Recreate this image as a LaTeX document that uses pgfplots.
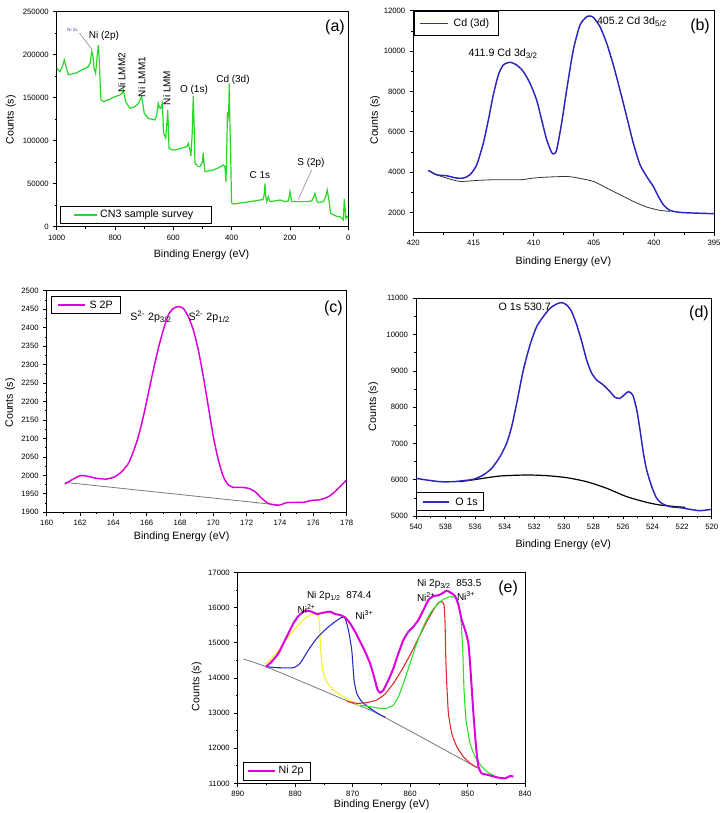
\documentclass[border=0pt]{standalone}
\usepackage{pgfplots}
\pgfplotsset{compat=1.18}
\usepackage{fontspec}
\setmainfont{Liberation Sans}
\definecolor{cgreen}{RGB}{40,215,40}
\definecolor{cblue}{RGB}{45,35,190}
\definecolor{dblue}{RGB}{50,40,200}
\definecolor{cmag}{RGB}{220,0,220}
\definecolor{eyellow}{RGB}{245,240,40}
\definecolor{ered}{RGB}{225,40,40}
\definecolor{egreen}{RGB}{40,225,40}
\definecolor{eblue}{RGB}{40,40,200}
\definecolor{cgray}{RGB}{120,120,120}
\tikzset{
  annot/.style={font=\fontsize{7.5}{8}\selectfont, inner sep=0pt},
  plab/.style={font=\fontsize{12}{13}\selectfont, inner sep=0pt},
  legtxt/.style={font=\fontsize{8}{9}\selectfont, inner sep=0pt, anchor=west},
}
% manual legend frame and sample line
\newcommand{\mylegend}[9]{%
  \draw[black, line width=0.5pt, fill=white] (axis description cs:#1,#2) rectangle (axis description cs:#3,#4);
  \draw[draw=#9, line width=1.3pt] (axis description cs:#5,#7) -- (axis description cs:#6,#7);
  \node[legtxt] at (axis description cs:#8,#7) }
\pgfplotsset{
  xps/.style={
    scale only axis,
    axis line style={line width=0.6pt},
    tick align=outside,
    tick pos=left,
    minor tick num=1,
    major tick length=2.5pt, minor tick length=1.5pt,
    tick style={line width=0.5pt, black},
    ticklabel style={font=\fontsize{5.8}{7}\selectfont},
    /pgf/number format/assume math mode=true,
    /pgf/number format/fixed,
    /pgf/number format/precision=0,
    /pgf/number format/1000 sep={},
    scaled ticks=false,
    xlabel={Binding Energy (eV)},
    ylabel={Counts (s)},
    xlabel style={anchor=center, font=\fontsize{8}{9}\selectfont},
    ylabel style={anchor=center, font=\fontsize{8}{9}\selectfont},
  }
}
\begin{document}
\begin{tikzpicture}
% ---------------- (a) ----------------
\begin{axis}[xps,
  at={(42.5pt,-170pt)}, anchor=south west,
  width=218.7pt, height=161.25pt,
  x dir=reverse, xmin=0, xmax=1000, ymin=0, ymax=250000,
  xtick={0,200,...,1000}, ytick={0,50000,...,250000},
  xlabel style={at={(axis description cs:0.497,-0.132)}},
  ylabel style={at={(axis description cs:-0.157,0.496)}},
]
\addplot[cgreen, line width=0.9pt] coordinates {
(1000,184200) (993,182000) (988.7,180200) (981,186000) (973.9,193800) (968,186000)
(962.4,180200) (960,176400) (950,177500) (937,178300) (920,181000) (905,183500)
(891.6,186000) (885,190000) (880,203500) (876,200000) (872,185000) (866.4,178300)
(862,195000) (857.3,211300) (854,195000) (850,160000) (848,147300) (840,145300)
(820,148000) (800,151200) (783,153100) (776,155000) (771.6,159000) (767,152000)
(763.5,145300) (755,141000) (748.7,137700) (740,138500) (731.6,139500) (720,143000)
(714,147300) (708.5,151200) (704,142000) (699.6,131800) (685.9,126000) (675,125000)
(663,124100) (657,129900) (651.6,143500) (647,138000) (643.3,137700) (637.8,143500)
(633,108600) (626,102800) (621,125000) (619.3,135700) (616,110000) (614.9,91200)
(605,89500) (594.3,89200) (575,91000) (554.3,93000) (548.6,97000) (542,88000)
(539.5,82200) (535,110000) (531.5,152000) (528,110000) (525.7,73700) (514.4,69800)
(508.6,69800) (500,75000) (497.3,86000) (494,72000) (491.4,64000) (475,65000)
(463,65900) (445,68500) (428.8,71700) (423,69800) (419.4,52000) (416,100000)
(414.5,133000) (412,128000) (410,135000) (408,166700) (406,120000) (403.3,85300)
(401,40000) (400,27900) (394.4,26400) (370,27500) (337,29100) (302.8,31000)
(292,31500) (288,38000) (285.7,50000) (283,35000) (279.8,29100) (274.3,34900)
(268.5,29100) (250,30000) (234.2,31000) (217,29100) (205,30000) (200,40700)
(194,29100) (171.5,29100) (142.7,29100) (125.5,30000) (118,35000) (114.2,38800)
(108,30000) (102.9,27900) (85.7,29100) (77,35000) (72,42700) (66,30000)
(60.4,15600) (40,12000) (28.5,11600) (22.6,9800) (17,7800) (13.7,32000)
(10.5,20000) (8.9,9800) (4,12000) (0,10000)
};
\mylegend{0.0113}{0.0158}{0.5315}{0.093}{0.0593}{0.137}{0.0544}{0.1485}{cgreen}{CN3 sample survey};
\node[annot, font=\fontsize{3.5}{4}\selectfont, text=cblue!60!gray] at (axis cs:945.8,228700) {Ni 2s};
\draw[gray, line width=0.4pt] (axis cs:922,225200) -- (axis cs:877.5,205500);
\node[annot] at (axis cs:837.8,221700) {Ni (2p)};
\node[annot, rotate=90] at (axis cs:777,178700) {Ni LMM2};
\node[annot, rotate=90] at (axis cs:708.5,174000) {Ni LMM1};
\node[annot, rotate=90] at (axis cs:622.8,161300) {Ni LMM};
\node[annot] at (axis cs:529.2,159000) {O (1s)};
\node[annot] at (axis cs:395.4,170600) {Cd (3d)};
\node[annot] at (axis cs:302.8,60100) {C 1s};
\node[annot] at (axis cs:127.9,74100) {S (2p)};
\draw[gray, line width=0.4pt] (axis cs:125.5,65900) -- (axis cs:171.5,31900);
\node[plab] at (axis cs:45.6,232200) {(a)};
\end{axis}
% ---------------- (b) ----------------
\begin{axis}[xps,
  at={(310pt,-174.4pt)}, anchor=south west,
  width=225.5pt, height=166.35pt,
  x dir=reverse, xmin=395, xmax=420, ymin=1000, ymax=12000,
  xtick={395,400,...,420}, ytick={2000,4000,...,12000},
  xlabel style={at={(axis description cs:0.499,-0.132)}},
  ylabel style={at={(axis description cs:-0.127,0.507)}},
]
\addplot[black!80, line width=0.6pt, smooth, tension=0.4] coordinates {
(418.75,4079) (418.06,3864) (417.23,3700) (416.12,3535) (414.73,3584) (413.35,3617)
(411.13,3617) (410.02,3700) (408.91,3749) (407.25,3782) (406.7,3749) (405.03,3535)
(403.92,3205) (402.82,2875) (401.71,2544) (400.6,2264) (399.49,2099) (398.66,2049)
};
\addplot[cblue, line width=1.1pt, smooth, tension=0.4] coordinates {
(418.75,4079) (418.06,3864) (417.23,3815) (416.4,3700) (415.84,3700) (415.29,3864)
(414.73,4360) (414.18,5432) (413.76,6587) (413.35,7825) (412.93,8815) (412.52,9310)
(411.96,9442) (411.41,9310) (410.85,8980) (410.3,8403) (409.75,7577) (409.33,6587)
(408.91,5597) (408.5,4970) (408.3,4904) (408.08,5102) (407.67,6422) (407.25,8072)
(406.7,10053) (406.14,11290) (405.59,11703) (405.3,11736) (405.03,11670) (404.48,11208)
(403.92,10383) (403.37,9310) (402.82,8072) (402.26,6752) (401.71,5432) (401.15,4360)
(400.6,3782) (400.05,3287) (399.63,2792) (399.21,2379) (398.66,2099) (397.83,2000)
(396.72,1967) (395,1934)
};
\mylegend{0.002}{0.8905}{0.2827}{0.9955}{0.0223}{0.1164}{0.943}{0.133}{dblue}{Cd (3d)};
\fill[dblue] (axis description cs:0.0223,0.9391) rectangle (axis description cs:0.1164,0.9469);
\node[annot, font=\fontsize{8}{9}\selectfont, anchor=west] at (axis cs:415.43,9891) {411.9 Cd 3d\textsubscript{3/2}};
\node[annot, font=\fontsize{8}{9}\selectfont, anchor=west] at (axis cs:404.75,11456) {405.2 Cd 3d\textsubscript{5/2}};
\node[plab] at (axis cs:396.16,11208) {(b)};
\end{axis}
% ---------------- (c) ----------------
\begin{axis}[xps,
  at={(35pt,-384.2pt)}, anchor=south west,
  width=225pt, height=166.2pt,
  xmin=160, xmax=178, ymin=1900, ymax=2500,
  xtick={160,162,...,178}, ytick={1900,1950,...,2500},
  xlabel style={at={(axis description cs:0.45,-0.11)}},
  ylabel style={at={(axis description cs:-0.122,0.493)}},
]
\addplot[cgray, line width=0.6pt] coordinates {(161.1,1981) (173.9,1919.8)};
\addplot[cmag, line width=1.1pt, smooth, tension=0.4] coordinates {
(161.1,1976.7) (161.5,1987.5) (162.0,1999) (162.4,1998) (163.0,1992) (163.6,1990)
(164.1,1996.5) (164.5,2010) (164.9,2032) (165.2,2064) (165.5,2104.8) (165.8,2159)
(166.1,2222) (166.4,2285) (166.7,2344) (167.0,2393.5) (167.3,2434) (167.6,2452)
(167.9,2456.7) (168.2,2452) (168.5,2429.6) (168.8,2393.5) (169.1,2339) (169.4,2267)
(169.7,2186) (170.0,2104.8) (170.3,2041.6) (170.6,1996.5) (170.9,1974) (171.2,1967.7)
(171.6,1967.7) (172.1,1965) (172.5,1956) (172.9,1938) (173.3,1924) (173.7,1919.8)
(174.0,1919.8) (174.4,1926) (174.8,1927) (175.4,1927) (175.9,1932) (176.4,1934)
(176.9,1942) (177.3,1956) (177.7,1974) (178.0,1987.5)
};
\mylegend{0.0167}{0.898}{0.2443}{0.973}{0.0387}{0.1277}{0.9355}{0.142}{cmag}{S 2P};
\node[annot, font=\fontsize{8}{9}\selectfont, anchor=west] at (axis cs:165.0,2429.6) {S\textsuperscript{2-} 2p\textsubscript{3/2}};
\node[annot, font=\fontsize{8}{9}\selectfont, anchor=west] at (axis cs:168.5,2429.6) {S\textsuperscript{2-} 2p\textsubscript{1/2}};
\node[plab] at (axis cs:177.2,2453) {(c)};
\end{axis}
% ---------------- (d) ----------------
\begin{axis}[xps,
  at={(312pt,-387pt)}, anchor=south west,
  width=221.8pt, height=163.3pt,
  x dir=reverse, xmin=520, xmax=540, ymin=5000, ymax=11000,
  xtick={520,522,...,540}, ytick={5000,6000,...,11000},
  xlabel style={at={(axis description cs:0.498,-0.133)}},
  ylabel style={at={(axis description cs:-0.144,0.502)}},
]
\addplot[black, line width=0.9pt, smooth, tension=0.4] coordinates {
(537.02,5946) (535.9,6011) (534.32,6102) (532.52,6130) (531.16,6112) (529.81,6057)
(528.46,5946) (527.1,5763) (525.75,5533) (524.4,5377) (523.5,5303) (522.37,5257) (521.8,5239)
};
\addplot[cblue, line width=1.1pt, smooth, tension=0.4] coordinates {
(540,6038) (539.28,5992) (538.38,5946) (537.47,5946) (536.8,5974) (536.12,6011)
(535.45,6130) (534.88,6314) (534.32,6635) (533.87,7003) (533.53,7462) (533.19,8106)
(532.74,9024) (532.29,9714) (531.84,10219) (531.39,10495) (530.94,10724) (530.48,10844)
(530.15,10881) (529.81,10816) (529.47,10632) (529.13,10265) (528.79,9805) (528.46,9300)
(528.12,8933) (527.78,8749) (527.33,8611) (526.88,8427) (526.54,8271) (526.2,8243)
(525.93,8335) (525.64,8427) (525.34,8335) (525.07,7922) (524.85,7371) (524.62,6727)
(524.4,6268) (524.06,5809) (523.72,5487) (523.38,5349) (522.82,5257) (522.14,5230)
(521.47,5184) (520.79,5147) (520,5184)
};
\mylegend{0.0024}{0.0243}{0.2276}{0.107}{0.0247}{0.1126}{0.0657}{0.1319}{dblue}{O 1s};
\node[annot, font=\fontsize{8}{9}\selectfont, anchor=west] at (axis cs:534.43,10752) {O 1s 530.7};
\node[plab] at (axis cs:520.86,10587) {(d)};
\end{axis}
% ---------------- (e) ----------------
\begin{axis}[xps,
  at={(178.3pt,-587.5pt)}, anchor=south west,
  width=215.5pt, height=158.25pt,
  x dir=reverse, xmin=840, xmax=890, ymin=11000, ymax=17000,
  xtick={840,850,...,890}, ytick={11000,12000,...,17000},
  xlabel style={at={(axis description cs:0.501,-0.103)}},
  ylabel style={at={(axis description cs:-0.143,0.458)}},
]
\addplot[cgray, line width=0.6pt, smooth, tension=0.5] coordinates {
(889,14530) (884.8,14298) (870.6,13320) (865.2,12942) (848.1,11426)};
\addplot[eyellow, line width=0.8pt, smooth, tension=0.3] coordinates {
(885.24,14393) (884.08,14555) (882.63,14839) (881.18,15171) (879.73,15455) (878.28,15692)
(876.83,15834) (876.14,15834) (875.79,15550) (875.56,14792) (875.21,14223) (874.51,13891)
(873.35,13654) (871.61,13464) (869.87,13300) (868.71,13210)
};
\addplot[eblue, line width=0.8pt, smooth, tension=0.3] coordinates {
(885.07,14318) (883.21,14289) (880.31,14289) (879.15,14412) (877.7,14792) (876.25,15123)
(874.51,15408) (873.06,15597) (871.9,15720) (871.32,15692) (870.74,15360) (870.16,14792)
(869.76,13938) (869.29,13559) (868.42,13322) (866.97,13133) (865.23,12950) (864.3,12880)
};
\addplot[ered, line width=0.8pt, smooth, tension=0.3] coordinates {
(871.03,13330) (869.29,13275) (867.55,13294) (865.81,13370) (864.36,13540) (862.91,13844)
(861.46,14223) (860.01,14650) (858.56,15123) (857.11,15597) (855.95,15929) (855.08,16137)
(854.5,16166) (854.1,16071) (853.92,15550) (853.8,14602) (853.63,13844) (853.34,12990)
(852.76,12422) (851.89,12043) (850.73,11758) (849.57,11569) (848.41,11455)
};
\addplot[egreen, line width=0.8pt, smooth, tension=0.3] coordinates {
(868.71,13227) (866.97,13180) (865.23,13133) (864.07,13133) (862.91,13227) (862.04,13464)
(861.17,13844) (860.01,14412) (858.85,14981) (857.69,15455) (856.53,15834) (855.37,16071)
(854.21,16232) (853.05,16308) (852.18,16289) (851.6,16166) (851.2,15739) (850.85,14792)
(850.62,13654) (850.27,12801) (849.57,12138) (848.7,11758) (847.54,11474) (846.38,11303)
(845.22,11209)
};
\addplot[cmag, line width=1.5pt, smooth, tension=0.3] coordinates {
(885.07,14318) (884.08,14460) (882.92,14697) (882.05,14981) (881.18,15265) (880.31,15550)
(879.44,15758) (878.28,15910) (877.12,15882) (876.25,15815) (875.09,15853) (873.93,15882)
(873.06,15815) (872.19,15787) (871.32,15720) (870.45,15550) (869.58,15313) (868.71,15029)
(867.84,14744) (866.97,14412) (866.28,14033) (865.7,13673) (865.23,13578) (864.65,13654)
(863.78,13938) (862.91,14270) (862.04,14697) (861.17,15076) (860.3,15313) (859.43,15455)
(858.57,15645) (857.69,15929) (856.82,16213) (855.95,16327) (855.08,16346) (854.21,16422)
(853.63,16479) (852.94,16422) (852.18,16327) (851.6,16071) (851.02,15645) (850.44,15360)
(849.86,14981) (849.45,14128) (848.99,12990) (848.53,12043) (848.12,11474) (847.54,11284)
(846.38,11237) (844.93,11171) (843.48,11142) (842.61,11209) (842.03,11190)
};
\mylegend{0.0195}{0.0156}{0.2517}{0.0976}{0.0369}{0.1298}{0.0597}{0.1413}{cmag}{Ni 2p};
\node[annot, anchor=west] at (axis cs:877.99,16326) {Ni 2p\textsubscript{1/2}\ \ 874.4};
\node[annot, anchor=west] at (axis cs:879.63,15956) {Ni\textsuperscript{2+}};
\node[annot, anchor=west] at (axis cs:869.59,15786) {Ni\textsuperscript{3+}};
\node[annot, anchor=west] at (axis cs:858.85,16659) {Ni 2p\textsubscript{3/2}\ \ 853.5};
\node[annot, anchor=west] at (axis cs:858.85,16289) {Ni\textsuperscript{2+}};
\node[annot, anchor=west] at (axis cs:851.89,16326) {Ni\textsuperscript{3+}};
\node[plab] at (axis cs:842.96,16545) {(e)};
\end{axis}
\pgfresetboundingbox
\useasboundingbox (0pt,0pt) rectangle (541.5pt,-609.75pt);
\end{tikzpicture}
\end{document}
